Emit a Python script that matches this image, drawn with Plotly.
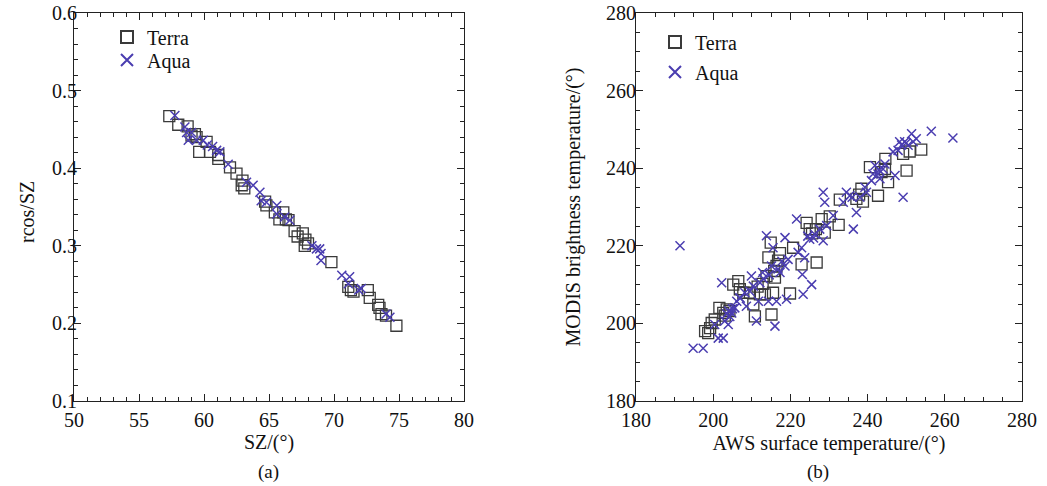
import plotly.graph_objects as go

# ---- Panel (a): SZ vs rcos/SZ ----
terra_a_sz = [57.33, 58.02, 58.74, 59.30, 59.04, 59.43, 59.63, 60.2, 60.46, 61.1, 61.1, 62.0, 62.5, 62.96,
              62.9, 63.1, 64.7, 64.8, 65.45, 65.8, 66.1, 66.3, 66.5, 66.97, 67.2, 67.6, 67.8, 68.0, 67.75,
              69.8, 71.1, 71.3, 71.5, 72.6, 72.75, 73.4, 73.5, 73.65, 74.0, 74.8]
terra_a_r = [0.467, 0.456, 0.454, 0.444, 0.442, 0.440, 0.421, 0.434, 0.421, 0.417, 0.412, 0.401, 0.393, 0.384,
             0.378, 0.374, 0.357, 0.352, 0.343, 0.334, 0.343, 0.334, 0.333, 0.319, 0.312, 0.316, 0.308, 0.303, 0.300,
             0.279, 0.247, 0.243, 0.241, 0.243, 0.233, 0.224, 0.220, 0.212, 0.210, 0.197]
aqua_a_sz = [57.76, 58.53, 58.66, 58.79, 59.04, 59.43, 59.94, 60.25, 60.66, 60.97, 61.22, 61.86, 63.27, 63.78,
             64.3, 64.4, 64.8, 65.6, 65.6, 66.2, 66.6, 68.3, 68.65, 68.9, 69.0, 69.0, 70.6, 71.2, 71.1, 71.9,
             72.1, 74.0, 74.3]
aqua_a_r = [0.468, 0.453, 0.446, 0.436, 0.446, 0.436, 0.436, 0.430, 0.428, 0.423, 0.421, 0.405, 0.382, 0.378,
            0.369, 0.358, 0.356, 0.352, 0.341, 0.337, 0.333, 0.300, 0.296, 0.296, 0.290, 0.281, 0.262, 0.260,
            0.251, 0.243, 0.245, 0.212, 0.208]

# ---- Panel (b): AWS surface temperature vs MODIS brightness temperature ----
terra_b_aws = [197.9, 198.7, 199.2, 199.6, 200.4, 201.6, 202.6, 203.5, 205.2, 206.5, 206.9, 207.8, 209.5, 210.4,
               210.8, 212.1, 213.4, 213.8, 214.3, 214.9, 215.1, 215.5, 216.0, 216.4, 217.3, 219.9, 220.7, 222.9,
               224.2, 225.0, 226.8, 226.6, 228.1, 228.9, 230.2, 232.5, 232.8, 237.1, 238.4, 238.8, 240.6, 242.7,
               243.6, 244.5, 244.6, 245.3, 249.2, 250.1, 250.9, 253.9,
               203.0, 204.2, 211.5, 212.8, 215.8, 216.8, 225.6, 237.8]
terra_b_modis = [198.0, 197.5, 198.8, 200.1, 201.0, 204.0, 202.7, 203.6, 210.0, 210.9, 208.8, 207.9, 207.9, 204.9,
                 201.8, 207.5, 207.5, 212.2, 217.0, 220.8, 202.3, 207.9, 211.8, 214.8, 218.1, 207.7, 219.5, 215.2,
                 225.9, 224.3, 215.7, 224.3, 226.9, 223.4, 227.6, 225.4, 231.9, 232.1, 234.7, 231.4, 240.3, 232.9,
                 239.0, 239.8, 242.4, 236.4, 243.7, 239.4, 244.3, 244.8,
                 202.0, 203.2, 209.5, 210.2, 213.5, 216.2, 223.2, 233.2]
aqua_b_aws = [191.4, 194.8, 197.4, 200.4, 201.3, 202.6, 202.2, 203.0, 203.9, 204.3, 204.8, 205.6, 206.1, 206.9,
              208.2, 208.6, 209.5, 209.9, 210.4, 211.2, 211.7, 212.1, 212.8, 213.8, 214.3, 215.1, 215.5, 216.0,
              216.4, 217.3, 218.6, 218.6, 219.0, 219.4, 221.6, 222.0, 222.9, 223.1, 223.3, 223.7, 225.0, 225.5,
              226.3, 227.6, 228.5, 228.9, 228.5, 229.4, 231.1, 233.7, 234.5, 235.4, 236.3, 237.1, 238.0, 239.3,
              239.7, 241.0, 241.4, 241.9, 242.7, 243.2, 244.0, 244.5, 247.1, 246.6, 247.9, 248.3, 249.2, 249.6,
              250.5, 251.4, 251.8, 252.6, 256.5, 262.1,
              203.5, 204.0, 205.0, 207.0, 213.0, 214.5, 216.8, 217.8, 224.5, 226.0, 236.0, 243.0, 248.8, 250.0]
aqua_b_modis = [220.0, 193.6, 193.6, 199.7, 196.2, 196.2, 210.5, 200.6, 199.7, 201.8, 202.7, 204.0, 205.7, 206.6,
                207.9, 204.4, 208.3, 212.2, 209.6, 200.6, 205.7, 210.5, 213.1, 222.6, 205.7, 214.8, 219.5, 199.3,
                205.7, 213.1, 222.1, 214.8, 206.2, 216.5, 226.9, 218.3, 219.5, 212.6, 207.5, 216.9, 221.7, 210.0,
                223.0, 224.3, 233.8, 231.2, 221.3, 225.2, 227.8, 231.2, 233.8, 232.9, 224.3, 228.6, 232.5, 235.1,
                233.8, 236.8, 238.5, 240.7, 238.5, 237.3, 239.8, 241.1, 238.1, 244.2, 244.6, 246.8, 232.5, 246.8,
                245.9, 248.9, 246.8, 247.6, 249.5, 247.8,
                202.5, 203.2, 203.8, 206.5, 211.5, 212.5, 214.0, 216.0, 222.5, 222.0, 232.5, 239.5, 246.0, 246.5]

TERRA_COLOR = "#3a3a3a"
AQUA_COLOR = "#4a3db0"
FONT = "Liberation Serif"

fig = go.Figure()

def add_pair(tx, ty, ax, ay, xa, ya, leg_t, leg_a):
    fig.add_trace(go.Scatter(
        x=tx, y=ty, mode="markers", name="Terra", xaxis=xa, yaxis=ya, legend=leg_t, showlegend=True,
        marker=dict(symbol="square-open", size=11, color=TERRA_COLOR, line=dict(width=1.3, color=TERRA_COLOR))))
    fig.add_trace(go.Scatter(
        x=ax, y=ay, mode="markers", name="Aqua", xaxis=xa, yaxis=ya, legend=leg_a, showlegend=True,
        marker=dict(symbol="x-thin-open", size=9, color=AQUA_COLOR, line=dict(width=1.5, color=AQUA_COLOR))))

add_pair(terra_a_sz, terra_a_r, aqua_a_sz, aqua_a_r, "x", "y", "legend", "legend2")
add_pair(terra_b_aws, terra_b_modis, aqua_b_aws, aqua_b_modis, "x2", "y2", "legend3", "legend4")

W, H = 1047, 486
def fx(px): return px / W
def fy(py): return 1 - py / H

axis_common = dict(
    showline=True, linecolor="#222", linewidth=1, mirror="ticks", ticks="inside",
    ticklen=7, tickwidth=1, tickcolor="#222", showgrid=False, zeroline=False, automargin=False,
    tickfont=dict(family=FONT, size=20, color="#111"),
    title_font=dict(family=FONT, size=20, color="#111"),
)

def leg(px, py):
    return dict(x=fx(px), y=fy(py), xanchor="left", yanchor="middle", bgcolor="rgba(0,0,0,0)",
                font=dict(family=FONT, size=20, color="#111"), itemsizing="constant")

fig.update_layout(
    width=W, height=H, margin=dict(l=0, r=0, t=0, b=0, autoexpand=False),
    paper_bgcolor="white", plot_bgcolor="white", showlegend=True,
    font=dict(family=FONT, color="#111"),
    xaxis=dict(domain=[fx(74), fx(464)], range=[50, 80], dtick=5, anchor="y", ticklabelstandoff=1,
               minor=dict(dtick=1, ticks="inside", ticklen=4, tickcolor="#222"),
               title=dict(text="SZ/(°)", standoff=2), **axis_common),
    yaxis=dict(domain=[fy(401), fy(13)], range=[0.1, 0.6], dtick=0.1, anchor="x", tickformat=".1f",
               ticklabelstandoff=-8,
               minor=dict(dtick=0.02, ticks="inside", ticklen=4, tickcolor="#222"),
               title=dict(text=""), **axis_common),
    xaxis2=dict(domain=[fx(636), fx(1022)], range=[180, 280], dtick=20, anchor="y2", ticklabelstandoff=1,
                minor=dict(dtick=5, ticks="inside", ticklen=4, tickcolor="#222"),
                title=dict(text="AWS surface temperature/(°)", standoff=5), **axis_common),
    yaxis2=dict(domain=[fy(401), fy(13)], range=[180, 280], dtick=20, anchor="x2", ticklabelstandoff=-5,
                minor=dict(dtick=5, ticks="inside", ticklen=4, tickcolor="#222"),
                title=dict(text="MODIS brightness temperature/(°)", standoff=20), **axis_common),
    legend=leg(107, 37),
    legend2=leg(107, 60),
    legend3=leg(655, 42),
    legend4=leg(655, 72),
    annotations=[
        dict(text="rcos/SZ", x=fx(27), y=fy(212), xref="paper", yref="paper", showarrow=False,
             textangle=-90, xanchor="center", yanchor="middle",
             font=dict(family=FONT, size=20, color="#111")),
        dict(text="(a)", x=fx(268), y=fy(472), xref="paper", yref="paper", showarrow=False,
             xanchor="center", yanchor="middle", font=dict(family=FONT, size=19, color="#111")),
        dict(text="(b)", x=fx(818), y=fy(472), xref="paper", yref="paper", showarrow=False,
             xanchor="center", yanchor="middle", font=dict(family=FONT, size=19, color="#111")),
    ],
)

fig.write_html("out.html", config={"displayModeBar": False},
               post_script="document.body.style.margin='0';document.body.style.overflow='hidden';")
